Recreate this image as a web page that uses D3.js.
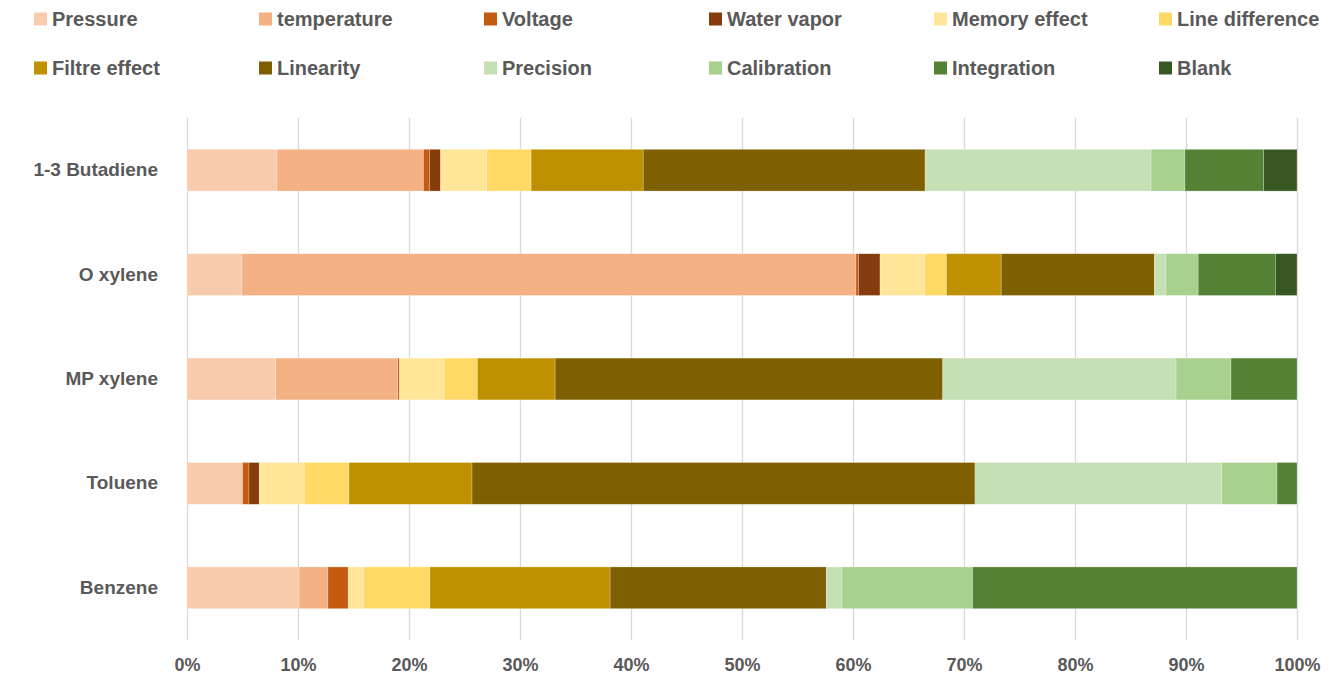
<!DOCTYPE html>
<html>
<head>
<meta charset="utf-8">
<script src="https://cdn.jsdelivr.net/npm/d3@7"></script>
<style>
  body { margin: 0; background: #fff; }
  svg { display: block; }
</style>
</head>
<body>
<svg id="chart" width="1339" height="682"></svg>
<script>
// categories, top to bottom
const categories = ["1-3 Butadiene", "O xylene", "MP xylene", "Toluene", "Benzene"]

// series (values in % of each bar, same order as categories)
const pressure      = [8.1, 4.95, 8.0, 5.0, 10.1]
const temperature   = [13.2, 55.3, 11.0, 0, 2.6]
const voltage       = [0.55, 0.22, 0.15, 0.58, 1.83]
const waterVapor    = [1.0, 1.95, 0, 0.93, 0]
const memoryEffect  = [4.15, 4.0, 4.02, 4.05, 1.36]
const lineDiff      = [4.0, 1.98, 3.0, 4.03, 6.0]
const filtreEffect  = [10.1, 4.93, 7.0, 11.08, 16.24]
const linearity     = [25.4, 13.8, 34.93, 45.3, 19.48]
const precision     = [20.35, 1.04, 21.02, 22.2, 1.42]
const calibration   = [3.05, 2.9, 4.95, 5.0, 11.76]
const integration   = [7.1, 6.95, 5.95, 1.8, 29.24]
const blank         = [3.0, 1.95, 0, 0, 0]

const seriesNames = ["Pressure", "temperature", "Voltage", "Water vapor", "Memory effect", "Line difference",
                     "Filtre effect", "Linearity", "Precision", "Calibration", "Integration", "Blank"]
const seriesValues = [pressure, temperature, voltage, waterVapor, memoryEffect, lineDiff,
                      filtreEffect, linearity, precision, calibration, integration, blank]
const colors = ["#F8CBAD", "#F4B183", "#C55A11", "#843C0C", "#FFE699", "#FFD966",
                "#BF9000", "#7F6000", "#C5E0B4", "#A9D18E", "#548235", "#385723"]

const xTicks = [0, 0.1, 0.2, 0.3, 0.4, 0.5, 0.6, 0.7, 0.8, 0.9, 1]

// table for d3.stack
const table = categories.map((c, i) => {
    const row = { category: c }
    seriesNames.forEach((s, j) => row[s] = seriesValues[j][i])
    return row
})

const margin = { left: 187, right: 42, top: 118, bottom: 42 }
const svgWidth = 1339
const svgHeight = 682
const width = svgWidth - margin.left - margin.right
const height = svgHeight - margin.top - margin.bottom

const font = "'Liberation Sans', Arial, sans-serif"
const textColor = "#595959"

const svg = d3.select("#chart")
const g = svg.append("g").attr("transform", `translate(${margin.left},${margin.top})`)

const xScale = d3.scaleLinear().domain([0, 1]).range([0, width])
const yScale = d3.scaleBand().domain(categories).range([0, height]).paddingInner(0.6).paddingOuter(0.3)

const stacked = d3.stack().keys(seriesNames).offset(d3.stackOffsetExpand)(table)

// vertical gridlines
g.append("g")
    .attr("class", "x-grid")
    .call(d3.axisBottom(xScale).tickValues(xTicks).tickSize(height).tickFormat(""))
    .call(g => g.select(".domain").remove())
    .call(g => g.selectAll(".tick>line").attr("stroke", "#D9D9D9").attr("stroke-width", 1.3))

// x axis labels
g.append("g")
    .attr("class", "x-axis")
    .attr("transform", `translate(0,${height})`)
    .call(d3.axisBottom(xScale).tickValues(xTicks).tickSize(0).tickPadding(18).tickFormat(d3.format(".0%")))
    .call(g => g.select(".domain").remove())
    .call(g => g.selectAll("text")
        .attr("font-family", font)
        .attr("font-weight", "bold")
        .attr("font-size", 18)
        .attr("fill", textColor))

// y axis labels
g.append("g")
    .attr("class", "y-axis")
    .call(d3.axisLeft(yScale).tickSize(0).tickPadding(29))
    .call(g => g.select(".domain").remove())
    .call(g => g.selectAll("text")
        .attr("font-family", font)
        .attr("font-weight", "bold")
        .attr("font-size", 19)
        .attr("fill", textColor))

// stacked bars
g.append("g")
    .selectAll("g")
    .data(stacked)
    .join("g")
    .attr("fill", (d, i) => colors[i])
    .selectAll("rect")
    .data(d => d)
    .join("rect")
    .attr("x", d => xScale(d[0]))
    .attr("y", d => yScale(d.data.category))
    .attr("width", d => Math.max(0, xScale(d[1]) - xScale(d[0])))
    .attr("height", yScale.bandwidth())
    .attr("stroke", "#fff")
    .attr("stroke-opacity", 0.35)
    .attr("stroke-width", 0.7)

// legend
const legendX = d3.scalePoint().domain(d3.range(6)).range([34, 34 + 225 * 5])
const legendY = [19, 68]
const swatch = 13

const legend = svg.append("g")
    .selectAll("g")
    .data(seriesNames)
    .join("g")
    .attr("transform", (d, i) => `translate(${legendX(i % 6)},${legendY[Math.floor(i / 6)]})`)

legend.append("rect")
    .attr("x", 0)
    .attr("y", -swatch / 2)
    .attr("width", swatch)
    .attr("height", swatch)
    .attr("fill", (d, i) => colors[i])

legend.append("text")
    .attr("x", swatch + 5)
    .attr("y", 0)
    .attr("dominant-baseline", "central")
    .attr("font-family", font)
    .attr("font-weight", "bold")
    .attr("font-size", 20)
    .attr("fill", textColor)
    .text(d => d)
</script>
</body>
</html>
